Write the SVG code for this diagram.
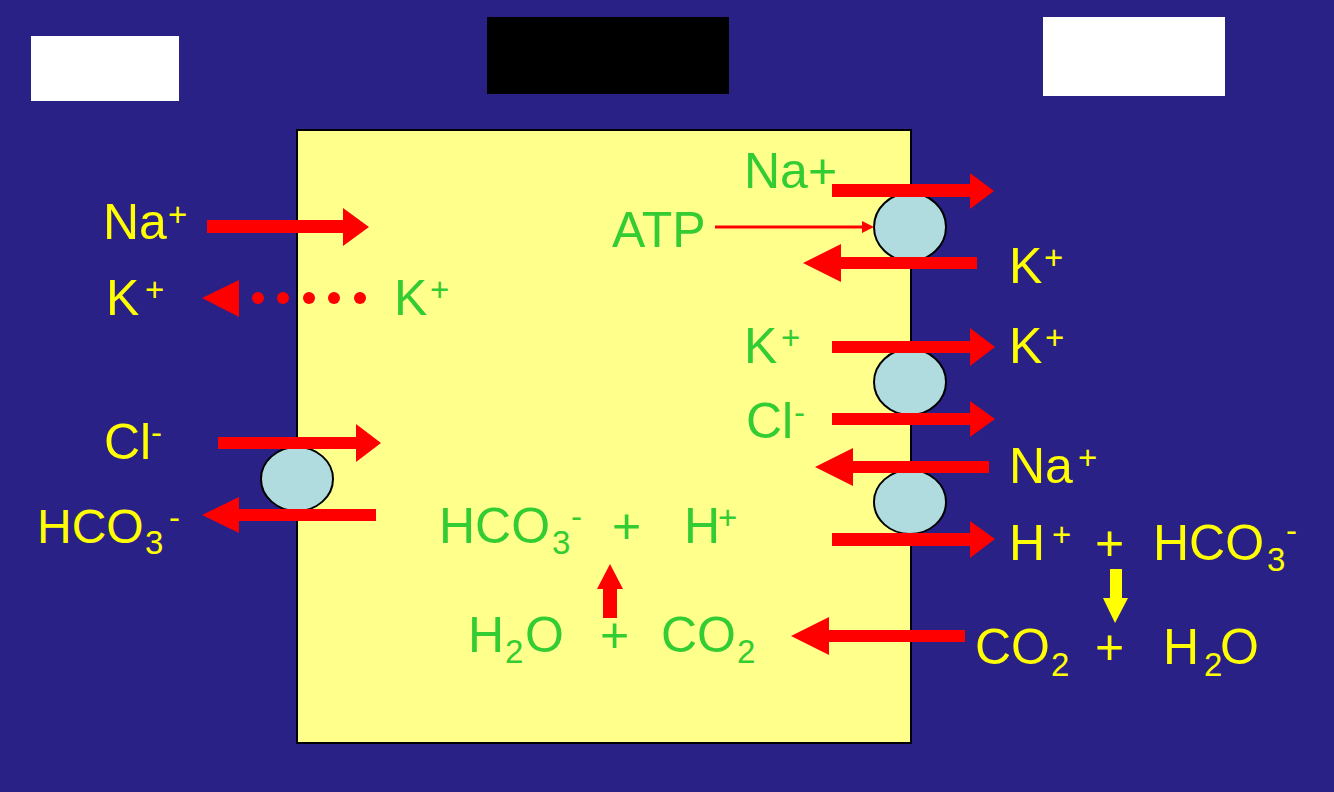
<svg xmlns="http://www.w3.org/2000/svg" width="1334" height="792" viewBox="0 0 1334 792">
<style>
text{font-family:"Liberation Sans",Arial,sans-serif;font-size:50px}
.y{fill:#FFFF00}
.g{fill:#33CC33}
.s{font-size:33px}
.arr{fill:#FF0000}
.ch{fill:#B0DCE0;stroke:#000;stroke-width:2}
</style>
<rect x="0" y="0" width="1334" height="792" fill="#292185"/>
<g id="labels-boxes">
<rect x="31" y="36" width="148" height="65" fill="#FFFFFF"/>
<rect x="487" y="17" width="242" height="77" fill="#000000"/>
<rect x="1043" y="17" width="182" height="79" fill="#FFFFFF"/>
</g>
<g id="cell">
<rect x="297" y="130" width="614" height="613" fill="#FFFF8C" stroke="#000" stroke-width="2"/>
</g>
<g id="channels">
<ellipse id="pump" class="ch" cx="910" cy="227" rx="36" ry="34"/>
<ellipse id="kcl" class="ch" cx="910" cy="382" rx="36" ry="33"/>
<ellipse id="nah" class="ch" cx="910" cy="502" rx="36" ry="32"/>
<ellipse id="exchanger" class="ch" cx="297" cy="479" rx="36" ry="32"/>
</g>
<g id="connectors">
<path class="arr" d="M207,220 H343 V208 L369,227 L343,246 V233 H207 Z"/>
<path class="arr" d="M202,298 L239,280 V317 Z"/>
<circle class="arr" cx="258" cy="298" r="6"/>
<circle class="arr" cx="283" cy="298" r="6"/>
<circle class="arr" cx="309" cy="298" r="6"/>
<circle class="arr" cx="334" cy="298" r="6"/>
<circle class="arr" cx="360" cy="298" r="6"/>
<path class="arr" d="M218,437 H356 V424 L381,443 L356,462 V449 H218 Z"/>
<path class="arr" d="M376,509 H239 V497 L202,515 L239,533 V521 H376 Z"/>
<path class="arr" d="M832,184 H970 V173 L994,191 L970,209 V197 H832 Z"/>
<line x1="715" y1="227" x2="863" y2="227" stroke="#FF0000" stroke-width="3"/>
<path class="arr" d="M862,221 L874,227 L862,233 Z"/>
<path class="arr" d="M977,257 H841 V244 L803,263 L841,282 V269 H977 Z"/>
<path class="arr" d="M832,341 H970 V328 L995,347 L970,366 V353 H832 Z"/>
<path class="arr" d="M832,413 H970 V401 L995,419 L970,437 V425 H832 Z"/>
<path class="arr" d="M989,461 H853 V448 L815,467 L853,486 V473 H989 Z"/>
<path class="arr" d="M832,533 H970 V521 L995,539 L970,558 V546 H832 Z"/>
<path class="arr" d="M965,630 H829 V617 L791,636 L829,655 V642 H965 Z"/>
<path class="arr" d="M603,618 V589 H597 L610,564 L623,589 H617 V618 Z"/>
<path fill="#FFFF00" d="M1110,569 H1122 V598 H1128 L1115,623 L1103,598 H1110 Z"/>
</g>
<g id="outside-left">
<text class="y" x="103" y="239">Na<tspan class="s" x="168" y="226">+</tspan></text>
<text class="y" x="106" y="315">K<tspan class="s" x="145" y="301">+</tspan></text>
<text class="y" x="104" y="459">Cl<tspan class="s" x="151" y="444">-</tspan></text>
<text class="y" x="37" y="543" style="font-size:48px">HCO<tspan class="s" x="145" y="554">3</tspan><tspan class="s" x="169" y="529">-</tspan></text>
</g>
<g id="inside">
<text class="g" x="394" y="315">K<tspan class="s" x="430" y="301">+</tspan></text>
<text class="g" x="744" y="188">Na+</text>
<text class="g" x="612" y="247">ATP</text>
<text class="g" x="744" y="363">K<tspan class="s" x="781" y="349">+</tspan></text>
<text class="g" x="746" y="438">Cl<tspan class="s" x="794" y="424">-</tspan></text>
<text class="g" x="439" y="543">HCO<tspan class="s" x="552" y="554">3</tspan><tspan class="s" x="571" y="528">-</tspan><tspan x="612" y="543">+</tspan><tspan x="684" y="543">H</tspan><tspan class="s" x="718" y="529">+</tspan></text>
<text class="g" x="468" y="652">H<tspan class="s" x="505" y="663">2</tspan><tspan x="525" y="652">O</tspan><tspan x="600" y="652">+</tspan><tspan x="661" y="652">CO</tspan><tspan class="s" x="737" y="663">2</tspan></text>
</g>
<g id="outside-right">
<text class="y" x="1009" y="283">K<tspan class="s" x="1044" y="269">+</tspan></text>
<text class="y" x="1009" y="363">K<tspan class="s" x="1045" y="349">+</tspan></text>
<text class="y" x="1009" y="483">Na<tspan class="s" x="1078" y="469">+</tspan></text>
<text class="y" x="1009" y="560">H<tspan class="s" x="1052" y="546">+</tspan><tspan x="1095" y="560">+</tspan><tspan x="1153" y="560">HCO</tspan><tspan class="s" x="1267" y="571">3</tspan><tspan class="s" x="1286" y="542">-</tspan></text>
<text class="y" x="975" y="664">CO<tspan class="s" x="1051" y="676">2</tspan><tspan x="1095" y="664">+</tspan><tspan x="1163" y="664">H</tspan><tspan class="s" x="1204" y="676">2</tspan><tspan x="1220" y="664">O</tspan></text>
</g>
</svg>
